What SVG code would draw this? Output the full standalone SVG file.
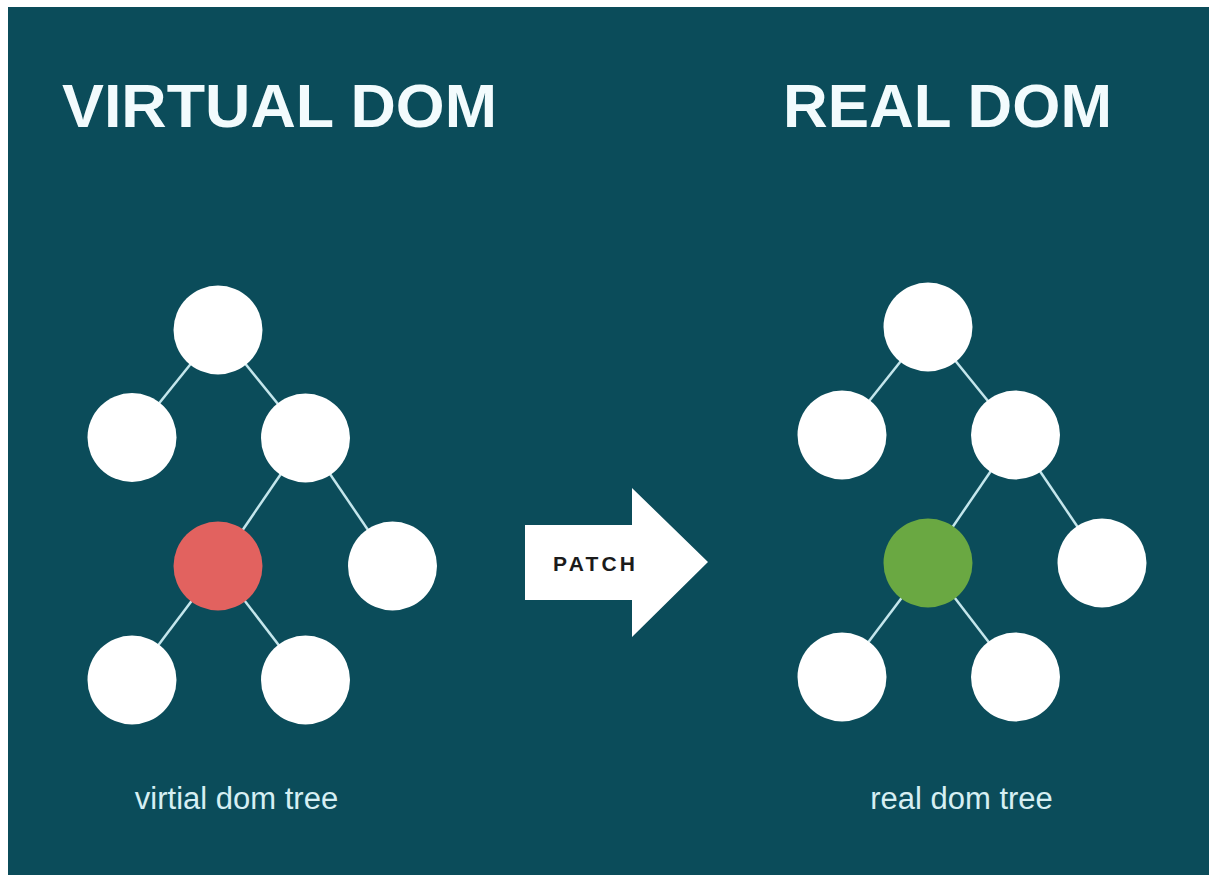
<svg xmlns="http://www.w3.org/2000/svg" width="1209" height="875" viewBox="0 0 1209 875">
<style>
.title{font-family:"Liberation Sans",Arial,sans-serif;font-weight:bold;font-size:62px;fill:#f2fbfd}
.cap{font-family:"Liberation Sans",Arial,sans-serif;font-size:31px;fill:#d6eff3}
.node{fill:#ffffff}
.edge{stroke:#c4e6ec;stroke-width:2.5}
.patch{font-family:"Liberation Sans",Arial,sans-serif;font-weight:bold;font-size:21px;fill:#1b1b1b}
</style>
<rect x="0" y="0" width="1209" height="875" fill="#ffffff"/>
<rect x="8" y="7" width="1201" height="868" fill="#0b4c5a"/>
<text class="title" x="62" y="127" textLength="435" lengthAdjust="spacingAndGlyphs">VIRTUAL DOM</text>
<text class="title" x="783" y="127" textLength="329" lengthAdjust="spacingAndGlyphs">REAL DOM</text>
<g id="connectors">
<line class="edge" x1="218" y1="330" x2="132" y2="437"/>
<line class="edge" x1="218" y1="330" x2="305.5" y2="438"/>
<line class="edge" x1="305.5" y1="438" x2="218" y2="566"/>
<line class="edge" x1="305.5" y1="438" x2="392.5" y2="566"/>
<line class="edge" x1="218" y1="566" x2="132" y2="680"/>
<line class="edge" x1="218" y1="566" x2="305.5" y2="680"/>
<line class="edge" x1="928" y1="327" x2="842" y2="435"/>
<line class="edge" x1="928" y1="327" x2="1015.5" y2="435"/>
<line class="edge" x1="1015.5" y1="435" x2="928" y2="563"/>
<line class="edge" x1="1015.5" y1="435" x2="1102" y2="563"/>
<line class="edge" x1="928" y1="563" x2="842" y2="677"/>
<line class="edge" x1="928" y1="563" x2="1015.5" y2="677"/>
</g>
<g id="v-root"><circle class="node" cx="218" cy="330" r="44.5"/></g>
<g id="v-left"><circle class="node" cx="132" cy="437.5" r="44.5"/></g>
<g id="v-right"><circle class="node" cx="305.5" cy="438" r="44.5"/></g>
<g id="v-changed"><circle cx="218" cy="566" r="44.5" fill="#e2625f"/></g>
<g id="v-right2"><circle class="node" cx="392.5" cy="566" r="44.5"/></g>
<g id="v-bl"><circle class="node" cx="132" cy="680" r="44.5"/></g>
<g id="v-br"><circle class="node" cx="305.5" cy="680" r="44.5"/></g>
<g id="r-root"><circle class="node" cx="928" cy="327" r="44.5"/></g>
<g id="r-left"><circle class="node" cx="842" cy="435" r="44.5"/></g>
<g id="r-right"><circle class="node" cx="1015.5" cy="435" r="44.5"/></g>
<g id="r-changed"><circle cx="928" cy="563" r="44.5" fill="#6aa842"/></g>
<g id="r-right2"><circle class="node" cx="1102" cy="563" r="44.5"/></g>
<g id="r-bl"><circle class="node" cx="842" cy="677" r="44.5"/></g>
<g id="r-br"><circle class="node" cx="1015.5" cy="677" r="44.5"/></g>
<g id="patch">
<polygon points="525,525 632,525 632,488 708,562 632,637 632,600 525,600" fill="#ffffff"/>
<text class="patch" x="553" y="571" textLength="82" lengthAdjust="spacing">PATCH</text>
</g>
<text class="cap" x="236.5" y="809" text-anchor="middle">virtial dom tree</text>
<text class="cap" x="961.5" y="809" text-anchor="middle">real dom tree</text>
</svg>
